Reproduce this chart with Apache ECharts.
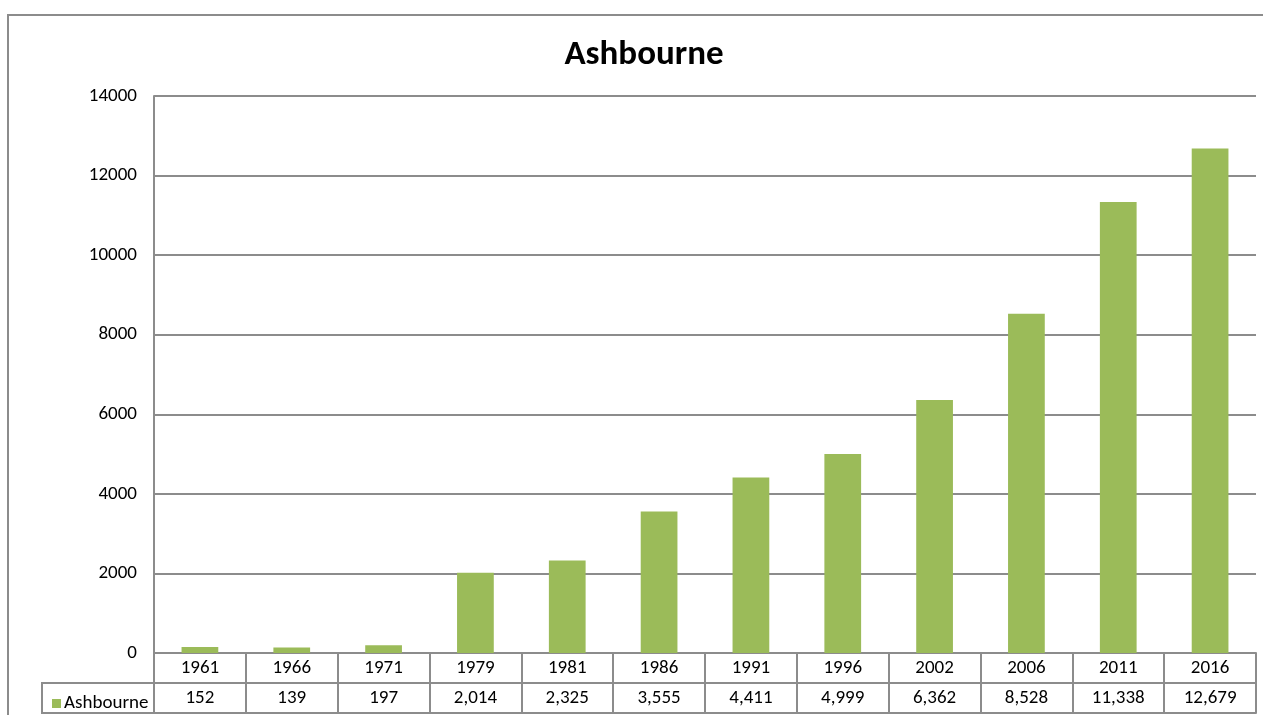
<!DOCTYPE html>
<html>
<head>
<meta charset="utf-8">
<script src="https://cdn.jsdelivr.net/npm/echarts@6/dist/echarts.min.js"></script>
<style>
  html, body { margin: 0; padding: 0; background: #fff; }
  #chart { width: 1263px; height: 715px; }
</style>
</head>
<body>
<div id="chart"></div>
<script>
const years = ['1961', '1966', '1971', '1979', '1981', '1986', '1991', '1996', '2002', '2006', '2011', '2016'];
const population = [152, 139, 197, 2014, 2325, 3555, 4411, 4999, 6362, 8528, 11338, 12679];
const seriesName = 'Ashbourne';

const font = 'Carlito, "Liberation Sans", "Open Sans", sans-serif';
const lineColor = '#8c8c8c';
const lineW = 2;

const chart = echarts.init(document.getElementById('chart'));

const option = {
  animation: false,
  textStyle: { fontFamily: font },
  title: {
    text: 'Ashbourne',
    left: 639,
    top: 33,
    textAlign: 'center',
    textStyle: { fontFamily: font, fontSize: 35, fontWeight: 'bold', color: '#000' }
  },
  legend: {
    left: 47,
    top: 689,
    itemWidth: 9,
    itemHeight: 9,
    itemGap: 4,
    icon: 'rect',
    textStyle: { fontFamily: font, fontSize: 19, color: '#000', padding: [0, 0, 0, -2] },
    data: [seriesName]
  },
  grid: { left: 154, right: 7, top: 96, bottom: 62 },
  xAxis: [
    {
      type: 'category',
      data: years,
      position: 'bottom',
      axisLine: { lineStyle: { color: lineColor, width: lineW } },
      axisTick: { show: true, length: 60, interval: 0, lineStyle: { color: lineColor, width: lineW } },
      axisLabel: { margin: 6, fontSize: 19, color: '#000', fontFamily: font, interval: 0 }
    },
    {
      type: 'category',
      data: population.map(v => v.toLocaleString('en-US')),
      position: 'bottom',
      offset: 30,
      axisLine: { lineStyle: { color: lineColor, width: lineW } },
      axisTick: { show: false },
      axisLabel: { margin: 6, fontSize: 19, color: '#000', fontFamily: font, interval: 0 }
    },
    {
      type: 'category',
      data: years,
      position: 'bottom',
      offset: 60,
      axisLine: { lineStyle: { color: lineColor, width: lineW } },
      axisTick: { show: false },
      axisLabel: { show: false }
    }
  ],
  yAxis: {
    type: 'value',
    min: 0,
    max: 14000,
    interval: 2000,
    axisLine: { show: true, lineStyle: { color: lineColor, width: lineW } },
    axisTick: { show: false },
    axisLabel: { margin: 17, fontSize: 19, color: '#000', fontFamily: font, formatter: v => String(v) },
    splitLine: { lineStyle: { color: lineColor, width: lineW } }
  },
  graphic: [
    {
      type: 'rect',
      shape: { x: 8, y: 15, width: 1400, height: 900 },
      style: { fill: 'none', stroke: lineColor, lineWidth: 2 },
      silent: true
    },
    {
      type: 'polyline',
      shape: { points: [[154, 683], [42, 683], [42, 713], [154, 713]] },
      style: { fill: 'none', stroke: lineColor, lineWidth: lineW },
      silent: true
    }
  ],
  series: [
    {
      name: seriesName,
      type: 'bar',
      data: population,
      barWidth: '40%',
      itemStyle: { color: '#9bbb59' }
    }
  ]
};

chart.setOption(option);
</script>
</body>
</html>
